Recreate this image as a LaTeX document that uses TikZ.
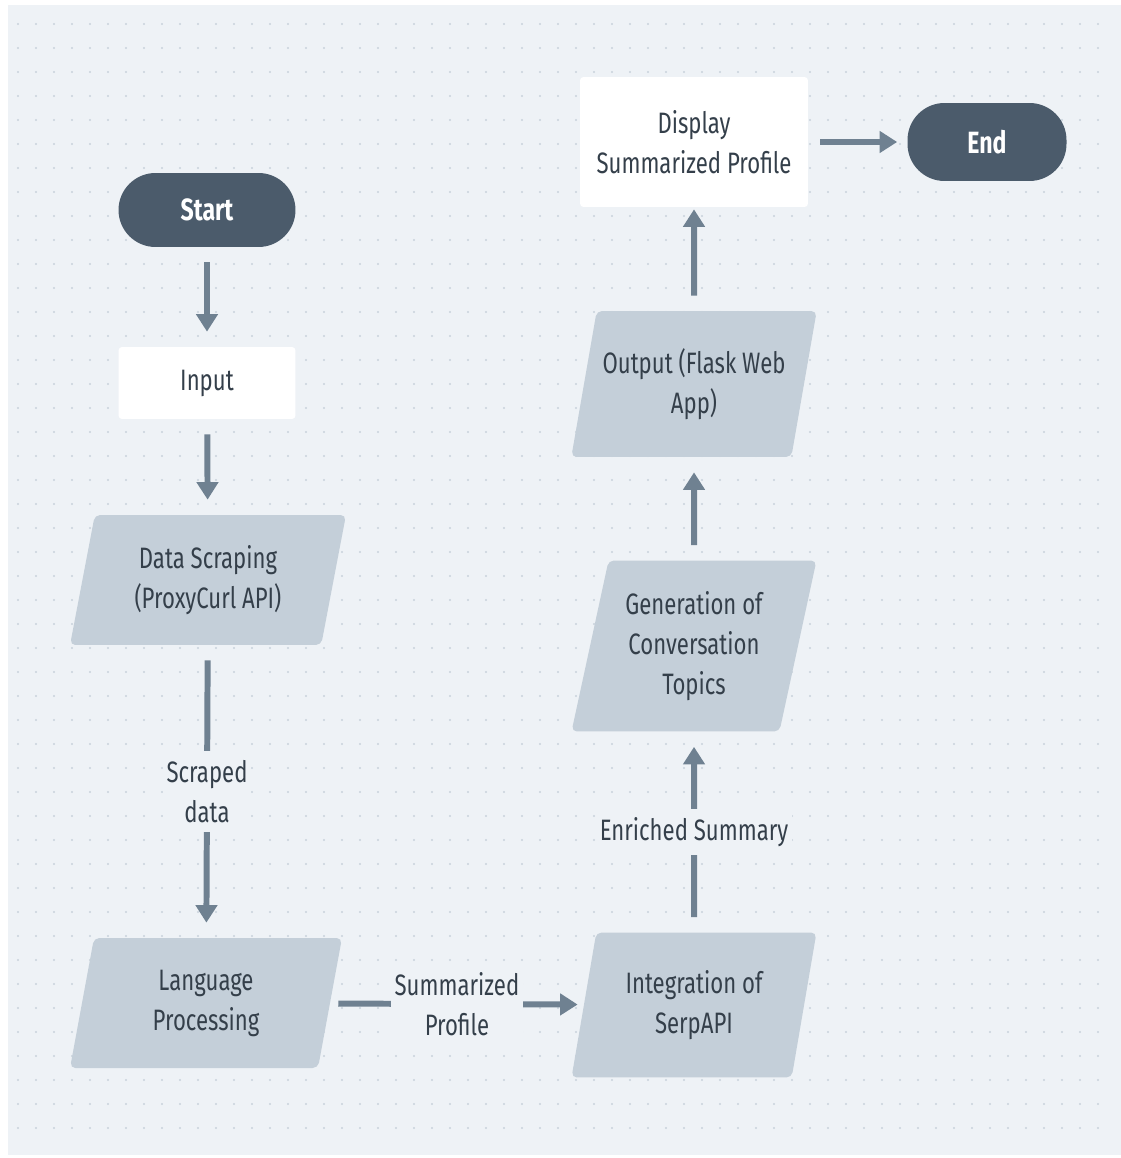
\documentclass[tikz,border=0pt]{standalone}
\usepackage{fontspec}
\setmainfont[FakeStretch=0.75]{Fira Sans}
\usetikzlibrary{arrows.meta, shapes.geometric}

\definecolor{bgcol}{HTML}{EEF2F6}
\definecolor{dotcol}{HTML}{C9D2DC}
\definecolor{pillcol}{HTML}{4B5B6B}
\definecolor{paracol}{HTML}{C4CFD9}
\definecolor{arrcol}{HTML}{6F8191}
\definecolor{txtcol}{HTML}{343F4A}

\begin{document}
\begin{tikzpicture}[x=0.02cm, y=-0.02cm,
    every node/.style={font=\fontsize{16.8}{22.8}\selectfont, text=txtcol, align=center},
    pill/.style={fill=pillcol, text=white, font=\fontsize{17.5}{22.8}\selectfont\bfseries,
        rounded corners=0.74cm, minimum width=3.54cm, minimum height=1.48cm},
    box/.style={fill=white, rounded corners=2pt},
    para/.style={trapezium, trapezium left angle=73, trapezium right angle=107, trapezium stretches body,
        fill=paracol, rounded corners=3pt, minimum width=4.9cm},
    flow/.style={draw=arrcol, line width=3.4pt, shorten <=0.3cm, shorten >=0.3cm,
        -{Triangle[width=12pt, length=10pt]}},
    lbl/.style={fill=bgcol, inner xsep=2pt, inner ysep=5pt}]

    % Hintergrund mit Punktraster
    \useasboundingbox (0,0) rectangle (1120,1158);
    \fill[bgcol] (8,5) rectangle (1122,1155);
    \foreach \x in {18,36,...,1110} {
        \foreach \y in {24,48,...,1150} {
            \fill[dotcol] (\x,\y) circle (0.6pt);
        }
    }

    % Linke Spalte
    \node[pill] (start) at (207,210) {Start};
    \node[box, minimum width=3.54cm, minimum height=1.44cm] (input) at (207,383) {Input};
    \node[para, minimum width=5.52cm, minimum height=2.6cm] (scrape) at (208,580) {Data Scraping\\(ProxyCurl API)};
    \node[para, minimum width=5.44cm, minimum height=2.6cm] (lang) at (206,1003) {Language\\Processing};

    % Rechte Spalte
    \node[para, minimum height=2.9cm] (serp) at (694,1005) {Integration of\\SerpAPI};
    \node[para, minimum height=3.42cm] (topics) at (694,646) {Generation of\\Conversation\\Topics};
    \node[para, minimum height=2.92cm] (output) at (694,384) {Output (Flask Web\\App)};
    \node[box, minimum width=4.56cm, minimum height=2.6cm] (display) at (694,142) {Display\\Summarized Profile};
    \node[pill, minimum width=3.18cm, minimum height=1.56cm] (end) at (987,142) {End};

    % Pfeile
    \draw[flow] (start) -- (input);
    \draw[flow] (input) -- (scrape);
    \draw[flow] (scrape) -- (lang) node[midway, lbl] {Scraped\\data};
    \draw[flow, shorten <=0.16cm, shorten >=0.12cm] (lang) -- (serp) node[midway, lbl] {Summarized\\Profile};
    \draw[flow] (serp) -- (topics) node[midway, lbl] {Enriched Summary};
    \draw[flow] (topics) -- (output);
    \draw[flow, shorten >=0.04cm] (output) -- (display);
    \draw[flow, shorten <=0.24cm, shorten >=0.2cm] (display) -- (end);

\end{tikzpicture}
\end{document}
